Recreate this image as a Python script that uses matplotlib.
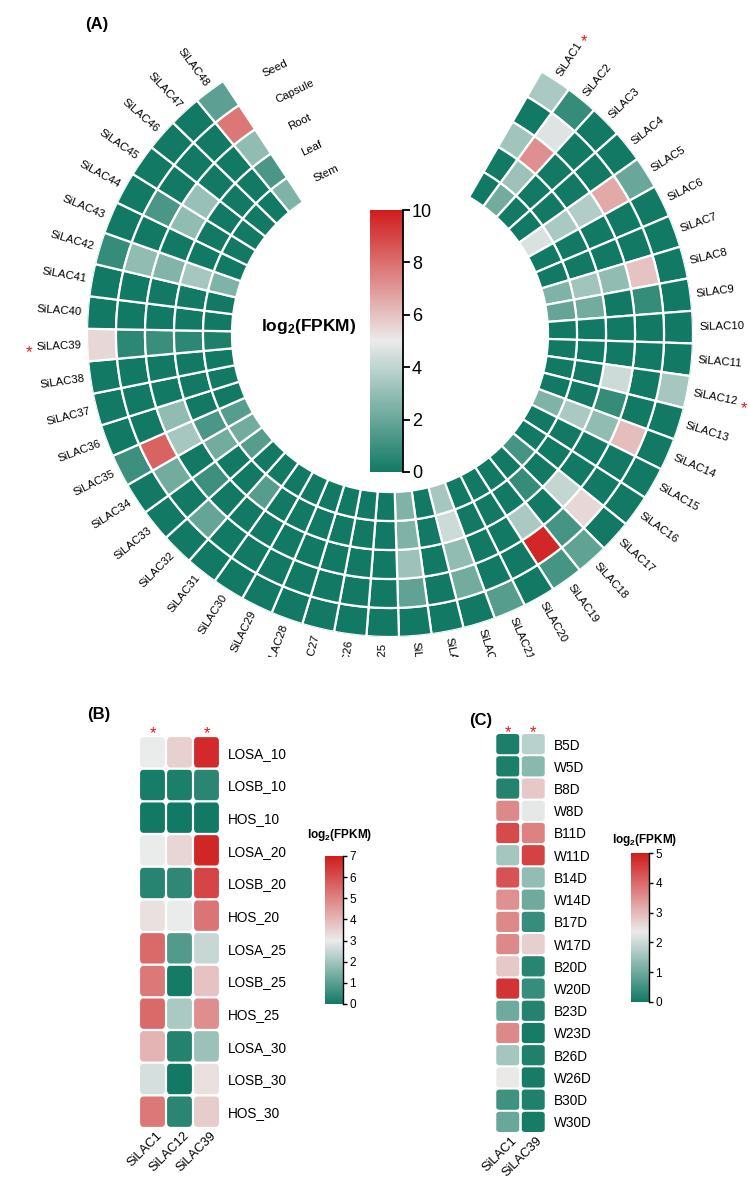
import numpy as np
import matplotlib
matplotlib.use('Agg')
import matplotlib.pyplot as plt
from matplotlib import transforms
from matplotlib.colors import LinearSegmentedColormap, Normalize
from matplotlib.cm import ScalarMappable
from matplotlib.patches import FancyBboxPatch
from matplotlib.font_manager import FontProperties

plt.rcParams['font.family'] = ['Liberation Sans', 'DejaVu Sans']
plt.rcParams['mathtext.fontset'] = 'custom'
plt.rcParams['mathtext.rm'] = 'Liberation Sans'
plt.rcParams['mathtext.it'] = 'Liberation Sans:italic'
plt.rcParams['mathtext.bf'] = 'Liberation Sans:bold'

W, H = 749, 1177
TEAL, WHITE, RED = '#127a64', '#ebebeb', '#d01c1c'

# ---- tissue expression of the 48 laccases (log2 FPKM) ----
genes = ['SiLAC%d' % i for i in range(1, 49)]
tissues = ['Seed', 'Capsule', 'Root', 'Leaf', 'Stem']
tissue_fpkm = [
    [3.5, 0.0, 3.3, 0.0, 0.0], [0.8, 4.7, 7.2, 3.2, 2.2], [0.0, 0.0, 0.0, 0.0, 0.0],
    [0.0, 0.0, 0.0, 0.0, 0.0], [2.0, 6.6, 3.7, 3.5, 4.6], [0.0, 0.0, 0.0, 0.0, 0.0],
    [0.0, 0.0, 0.0, 0.0, 0.0], [0.0, 6.0, 2.9, 3.3, 2.5], [0.0, 0.8, 0.0, 2.2, 1.9],
    [0.0, 0.0, 0.0, 0.0, 0.0], [0.0, 0.0, 0.0, 0.0, 0.0], [3.4, 0.0, 4.3, 0.0, 0.0],
    [0.0, 0.0, 0.8, 0.0, 0.0], [0.0, 6.1, 2.9, 3.5, 2.5], [0.0, 0.0, 0.0, 0.0, 0.0],
    [0.0, 0.0, 0.0, 0.0, 0.0], [0.0, 5.5, 4.1, 0.0, 1.2], [1.8, 1.2, 0.0, 0.8, 0.0],
    [1.2, 9.7, 3.5, 0.0, 0.0], [0.0, 0.0, 0.0, 0.0, 0.0], [1.6, 0.0, 0.0, 0.0, 0.0],
    [0.0, 2.2, 2.9, 4.3, 3.4], [0.0, 0.0, 0.0, 0.0, 0.0], [0.0, 1.8, 3.2, 2.5, 2.5],
    [0.0, 0.0, 0.0, 0.0, 0.0], [0.0, 0.0, 0.0, 0.0, 0.0], [0.0, 0.0, 0.0, 0.0, 0.0],
    [0.0, 0.0, 0.0, 0.0, 0.0], [0.0, 0.0, 0.0, 0.0, 0.0], [0.0, 0.0, 0.0, 0.0, 0.0],
    [0.0, 0.0, 0.0, 1.6, 0.0], [0.0, 1.9, 0.0, 0.0, 0.0], [0.0, 0.0, 1.0, 0.0, 1.6],
    [0.0, 2.2, 0.0, 2.2, 2.2], [1.0, 8.3, 3.4, 1.3, 1.6], [0.0, 0.0, 2.9, 0.0, 0.0],
    [0.0, 0.0, 0.0, 0.0, 0.0], [0.0, 0.0, 0.0, 0.0, 0.0], [5.5, 0.6, 0.9, 0.6, 0.3],
    [0.0, 0.0, 0.0, 0.0, 0.0], [0.0, 0.0, 0.0, 0.0, 0.0], [0.8, 2.9, 2.6, 3.4, 2.5],
    [0.0, 0.0, 0.0, 0.0, 0.0], [0.0, 1.3, 2.9, 0.0, 0.0], [0.0, 0.0, 3.1, 0.0, 0.0],
    [0.0, 0.0, 0.0, 0.0, 0.0], [0.0, 0.0, 0.0, 0.0, 0.0], [1.7, 7.8, 2.9, 1.3, 2.5],
]
starred_a = ['SiLAC1', 'SiLAC12', 'SiLAC39']

# ---- osmotic stress (B) ----
stress_genes = ['SiLAC1', 'SiLAC12', 'SiLAC39']
stress_samples = ['LOSA_10', 'LOSB_10', 'HOS_10', 'LOSA_20', 'LOSB_20', 'HOS_20',
                  'LOSA_25', 'LOSB_25', 'HOS_25', 'LOSA_30', 'LOSB_30', 'HOS_30']
stress_fpkm = [
    [3.0, 3.5, 6.7], [0.1, 0.15, 0.35], [0.0, 0.0, 0.0], [3.0, 3.4, 6.8],
    [0.3, 0.4, 6.2], [3.2, 3.0, 5.3], [5.5, 0.9, 2.5], [5.2, 0.05, 3.8],
    [5.5, 2.1, 4.8], [4.1, 0.25, 1.9], [2.7, 0.0, 3.2], [5.2, 0.35, 3.6],
]
starred_b = [0, 2]

# ---- seed development (C) ----
seed_genes = ['SiLAC1', 'SiLAC39']
seed_samples = ['B5D', 'W5D', 'B8D', 'W8D', 'B11D', 'W11D', 'B14D', 'W14D', 'B17D',
                'W17D', 'B20D', 'W20D', 'B23D', 'W23D', 'B26D', 'W26D', 'B30D', 'W30D']
seed_fpkm = [
    [0.1, 1.8], [0.1, 1.3], [0.2, 2.8], [3.6, 2.3], [4.4, 3.7], [1.6, 4.5],
    [4.3, 1.4], [3.5, 1.0], [3.6, 0.4], [3.6, 2.7], [2.8, 0.25], [4.7, 0.4],
    [1.0, 0.2], [3.6, 0.05], [1.6, 0.15], [2.4, 0.05], [0.5, 0.15], [0.95, 0.05],
]
starred_c = [0, 1]


def box(x0, y0, x1, y1):
    # pixel box (top-left origin) -> figure fraction rect
    return [x0 / W, 1 - y1 / H, (x1 - x0) / W, (y1 - y0) / H]


def make_cmap(mid):
    return LinearSegmentedColormap.from_list('tw', [(0, TEAL), (mid, WHITE), (1, RED)])


def star(ax, x, y, size, transform, up=0.0):
    # red asterisk, shifted so the glyph (not the text box) sits on (x, y)
    tr = transforms.offset_copy(transform, fig=fig, y=up - 0.3 * size, units='points')
    ax.text(x, y, '*', color='#e8151b', fontsize=size, ha='center', va='center',
            transform=tr, clip_on=False)


def colorbar(rect, cmap, vmax, step, title, title_xy, labelsize, ticklen, lw, title_size):
    cax = fig.add_axes(box(*rect))
    cb = fig.colorbar(ScalarMappable(Normalize(0, vmax), cmap), cax=cax)
    cb.outline.set_visible(False)
    cb.set_ticks(np.arange(0, vmax + 0.01, step))
    cax.tick_params(length=ticklen, width=lw, labelsize=labelsize, pad=1.5)
    cax.plot([1, 1], [0, 1], color='black', lw=lw, transform=cax.transAxes, clip_on=False)
    if title:
        fig.text(title_xy[0] / W, 1 - title_xy[1] / H, title, fontsize=title_size,
                 ha='center', va='center')
    return cax


fig = plt.figure(figsize=(W / 100, H / 100), dpi=100)

# ================= (A) circular heatmap =================
R_OUT, R_IN = 303.0, 158.0
ring = (R_OUT - R_IN) / len(tissues)
start, span = 30.0, 296.6
step = span / len(genes)
theta = start + step * (np.arange(len(genes)) + 0.5)
vals_a = np.array(tissue_fpkm)
cmap_a, norm_a = make_cmap(0.5), Normalize(0, 10)

axa = fig.add_axes(box(390 - R_OUT, 334 - R_OUT, 390 + R_OUT, 334 + R_OUT), projection='polar')
axa.set_theta_zero_location('N')
axa.set_theta_direction(-1)
axa.set_ylim(0, R_OUT)
axa.set_axis_off()

for j, t in enumerate(tissues):
    axa.bar(np.deg2rad(theta), ring, width=np.deg2rad(step), bottom=R_OUT - (j + 1) * ring,
            color=cmap_a(norm_a(vals_a[:, j])), edgecolor='white', linewidth=1.6)
    axa.text(np.deg2rad(334), R_OUT - (j + 0.5) * ring, t, rotation=26,
             rotation_mode='anchor', ha='left', va='center', fontsize=8.2)

clip = transforms.TransformedBbox(transforms.Bbox.from_extents(0, 1 - 657 / H, 1, 1),
                                  fig.transFigure)
renderer = fig.canvas.get_renderer()
fp = FontProperties(family=['Liberation Sans'], size=8.2)
for k, g in enumerate(genes):
    th = theta[k]
    if th < 180:
        rot, ha = 90 - th, 'left'
    else:
        rot, ha = 270 - th, 'right'
    txt = axa.text(np.deg2rad(th), R_OUT + 6, g, rotation=rot, rotation_mode='anchor',
                   ha=ha, va='center', fontsize=8.2)
    txt.set_clip_box(clip)
    txt.set_clip_on(True)
    if g in starred_a:
        w = renderer.get_text_width_height_descent(g, fp, ismath=False)[0]
        star(axa, np.deg2rad(th), R_OUT + 6 + w + 7, 12, axa.transData)

fig.text(97 / W, 1 - 25 / H, '(A)', fontsize=12, fontweight='bold', ha='center', va='center')
fig.text(356 / W, 1 - 326 / H, r'$\mathbf{log_2(FPKM)}$', fontsize=12.5, ha='right', va='center')
colorbar((370, 210, 403, 472), cmap_a, 10, 2, None, None, 13, 5, 1.3, 0)


# ================= (B) and (C) rounded heatmaps =================
def rounded_heatmap(rect, data, cols, rows, cmap, norm, stars, gx, gy, star_up):
    ax = fig.add_axes(box(*rect))
    data = np.array(data)
    nr, nc = data.shape
    for i in range(nr):
        for j in range(nc):
            ax.add_patch(FancyBboxPatch((j + gx, i + gy), 1 - 2 * gx, 1 - 2 * gy,
                                        boxstyle='round,pad=0,rounding_size=0.13',
                                        fc=cmap(norm(data[i, j])), ec='none'))
    ax.set_xlim(0, nc)
    ax.set_ylim(nr, 0)
    ax.yaxis.tick_right()
    ax.set_yticks(np.arange(nr) + 0.5, rows, fontsize=9.8)
    ax.set_xticks(np.arange(nc) + 0.62, cols, fontsize=9.3, rotation=45, ha='right',
                  rotation_mode='anchor')
    ax.tick_params(length=0)
    ax.tick_params(axis='y', pad=6)
    ax.tick_params(axis='x', pad=1)
    for s in ax.spines.values():
        s.set_visible(False)
    for j in stars:
        star(ax, j + 0.5, 0, 12, ax.transData, up=star_up)
    return ax


rounded_heatmap((139, 736, 220, 1128), stress_fpkm, stress_genes, stress_samples,
                make_cmap(3 / 7), Normalize(0, 7), starred_b, 0.04, 0.035, 5.0)
fig.text(99 / W, 1 - 715 / H, '(B)', fontsize=12, fontweight='bold', ha='center', va='center')
colorbar((325, 856, 343, 1004), make_cmap(3 / 7), 7, 1, r'$\mathbf{log_2(FPKM)}$',
         (340, 835), 8.5, 3, 1.0, 8.5)

rounded_heatmap((495, 733, 546, 1133), seed_fpkm, seed_genes, seed_samples,
                make_cmap(0.47), Normalize(0, 5), starred_c, 0.05, 0.045, 4.0)
fig.text(481 / W, 1 - 720 / H, '(C)', fontsize=12, fontweight='bold', ha='center', va='center')
colorbar((631, 853, 649, 1002), make_cmap(0.47), 5, 1, r'$\mathbf{log_2(FPKM)}$',
         (645, 840), 8.5, 3, 1.0, 8.5)

fig.savefig('out.png', dpi=100)
